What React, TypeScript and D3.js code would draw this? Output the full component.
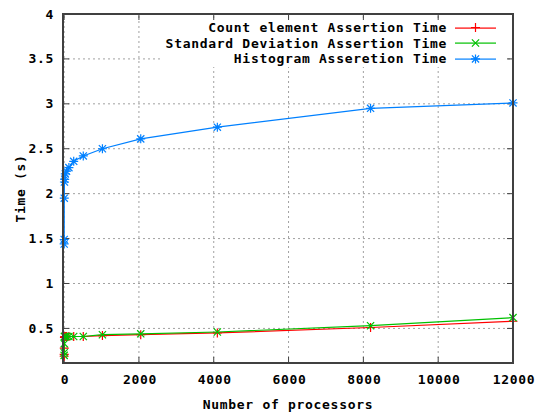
import React from "react";
import * as d3 from "d3";

const processors = [1, 2, 4, 8, 16, 32, 64, 128, 256, 512, 1024, 2048, 4096, 8192, 12000];
const countTime = [0.19, 0.21, 0.28, 0.4, 0.41, 0.41, 0.41, 0.41, 0.41, 0.41, 0.42, 0.43, 0.45, 0.51, 0.58];
const stdDevTime = [0.2, 0.23, 0.33, 0.41, 0.41, 0.41, 0.41, 0.41, 0.41, 0.41, 0.43, 0.44, 0.46, 0.53, 0.62];
const histTime = [1.44, 1.49, 1.95, 2.13, 2.16, 2.22, 2.25, 2.29, 2.36, 2.42, 2.5, 2.61, 2.74, 2.95, 3.01];

const xTicks = [0, 2000, 4000, 6000, 8000, 10000, 12000];
const yTicks = [0.5, 1, 1.5, 2, 2.5, 3, 3.5, 4];

const seriesNames = ["Count element Assertion Time", "Standard Deviation Assertion Time", "Histogram Asseretion Time"];
const seriesColors = ["#ff0000", "#00c000", "#0080ff"];
const seriesMarkers = ["plus", "cross", "star"];

const L = 63, R = 513, T = 14, B = 363;
const FONT = "'DejaVu Sans Mono', monospace";

function Marker({ x, y, type, color }: { x: number; y: number; type: string; color: string }) {
  const s = 4.5;
  const plus = `M${x - s},${y}H${x + s}M${x},${y - s}V${y + s}`;
  const d = 3.6;
  const cross = `M${x - d},${y - d}L${x + d},${y + d}M${x - d},${y + d}L${x + d},${y - d}`;
  const path = type === "plus" ? plus : type === "cross" ? cross : plus + cross;
  return <path d={path} stroke={color} strokeWidth={1.2} fill="none" />;
}

export default function App() {
  const x = d3.scaleLinear().domain([-30, 12000]).range([L, R]);
  const y = d3.scaleLinear().domain([0.115, 4]).range([B, T]);
  const allSeries = [countTime, stdDevTime, histTime];
  const line = d3
    .line<number>()
    .x((_, i) => x(processors[i]))
    .y((v) => y(v));

  const legendX = 447;
  const legendRows = [27.5, 43, 58.9];
  const legendBox = { x0: 160, x1: 505, y0: 18, y1: 67 };

  return (
    <svg width={539} height={413} style={{ position: "absolute", left: 0, top: 0, background: "#fff" }}>
      <rect x={0} y={0} width={539} height={413} fill="#fff" />
      {/* grid */}
      {xTicks.map((t) => (
        <line key={"gx" + t} x1={x(t)} x2={x(t)} y1={B} y2={T} stroke="#a0a0a0" strokeDasharray="2,3" strokeWidth={1} />
      ))}
      {yTicks.map((t) => (
        <line key={"gy" + t} x1={L} x2={R} y1={y(t)} y2={y(t)} stroke="#a0a0a0" strokeDasharray="2,3" strokeWidth={1} />
      ))}
      {/* opaque legend box */}
      <rect x={legendBox.x0} y={legendBox.y0} width={legendBox.x1 - legendBox.x0} height={legendBox.y1 - legendBox.y0} fill="#fff" />
      {/* ticks */}
      {xTicks.map((t) => (
        <g key={"tx" + t}>
          <line x1={x(t)} x2={x(t)} y1={B} y2={B - 6} stroke="#404040" strokeWidth={1} />
          <line x1={x(t)} x2={x(t)} y1={T} y2={T + 6} stroke="#404040" strokeWidth={1} />
          <text x={x(t) + 1} y={379} textAnchor="middle" dominantBaseline="central" fontFamily={FONT} fontWeight="bold" fontSize={13} letterSpacing={0.7} fill="#000">
            {t}
          </text>
        </g>
      ))}
      {yTicks.map((t) => (
        <g key={"ty" + t}>
          <line x1={L} x2={L + 6} y1={y(t)} y2={y(t)} stroke="#404040" strokeWidth={1} />
          <line x1={R} x2={R - 6} y1={y(t)} y2={y(t)} stroke="#404040" strokeWidth={1} />
          <text x={54} y={y(t)} textAnchor="end" dominantBaseline="central" fontFamily={FONT} fontWeight="bold" fontSize={13} letterSpacing={0.7} fill="#000">
            {String(t)}
          </text>
        </g>
      ))}
      {/* data */}
      {allSeries.map((vals, si) => (
        <g key={"s" + si}>
          <path d={line(vals) || ""} stroke={seriesColors[si]} strokeWidth={1.2} fill="none" />
          {vals.map((v, i) => (
            <Marker key={i} x={x(processors[i])} y={y(v)} type={seriesMarkers[si]} color={seriesColors[si]} />
          ))}
        </g>
      ))}
      {/* legend */}
      {seriesNames.map((n, i) => (
        <g key={"lg" + i}>
          <text x={legendX} y={legendRows[i]} textAnchor="end" dominantBaseline="central" fontFamily={FONT} fontWeight="bold" fontSize={13} letterSpacing={0.7} fill="#000">
            {n}
          </text>
          <rect x={455} width={41} y={Math.round(legendRows[i]) - 0.5} height={1.2} fill={seriesColors[i]} />
          <Marker x={475.5} y={legendRows[i]} type={seriesMarkers[i]} color={seriesColors[i]} />
        </g>
      ))}
      {/* border */}
      <rect x={L} y={T} width={R - L} height={B - T} fill="none" stroke="#404040" strokeWidth={2} />
      {/* axis labels */}
      <text x={288} y={404} textAnchor="middle" dominantBaseline="central" fontFamily={FONT} fontWeight="bold" fontSize={13} letterSpacing={0.7} fill="#000">
        Number of processors
      </text>
      <text transform={`translate(20,${(T + B) / 2}) rotate(-90)`} textAnchor="middle" dominantBaseline="central" fontFamily={FONT} fontWeight="bold" fontSize={13} letterSpacing={0.7} fill="#000">
        Time (s)
      </text>
    </svg>
  );
}
